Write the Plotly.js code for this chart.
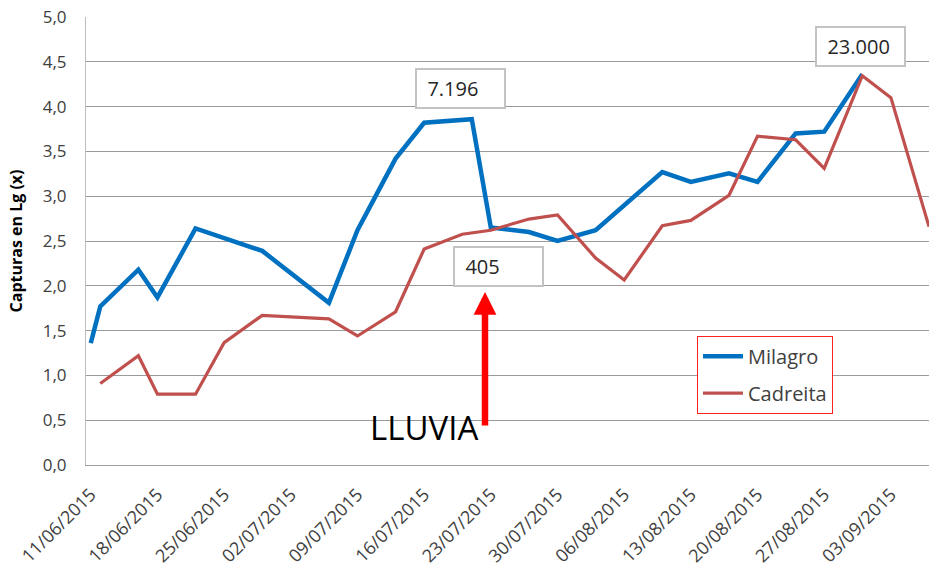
<!DOCTYPE html>
<html><head><meta charset="utf-8">
<script src="https://cdn.plot.ly/plotly-3.0.1.min.js"></script>
<style>html,body{margin:0;padding:0;background:#fff}</style>
</head><body>
<div id="chart" style="width:929px;height:566px"></div>
<script>
const seriesNames = ['Milagro', 'Cadreita'];
const milagroDates = ['2015-06-11','2015-06-12','2015-06-16','2015-06-18','2015-06-22','2015-06-29','2015-07-06','2015-07-09','2015-07-13','2015-07-16','2015-07-21','2015-07-23','2015-07-27','2015-07-30','2015-08-03','2015-08-10','2015-08-13','2015-08-17','2015-08-20','2015-08-24','2015-08-27','2015-08-31'];
const milagroValues = [1.36, 1.77, 2.18, 1.87, 2.64, 2.39, 1.81, 2.62, 3.42, 3.82, 3.86, 2.65, 2.60, 2.50, 2.62, 3.27, 3.16, 3.255, 3.16, 3.70, 3.72, 4.36];
const cadreitaDates = ['2015-06-12','2015-06-16','2015-06-18','2015-06-22','2015-06-25','2015-06-29','2015-07-06','2015-07-09','2015-07-13','2015-07-16','2015-07-20','2015-07-23','2015-07-27','2015-07-30','2015-08-03','2015-08-06','2015-08-10','2015-08-13','2015-08-17','2015-08-20','2015-08-24','2015-08-27','2015-08-31','2015-09-03','2015-09-07'];
const cadreitaValues = [0.91, 1.22, 0.79, 0.79, 1.365, 1.67, 1.63, 1.44, 1.71, 2.41, 2.575, 2.62, 2.745, 2.79, 2.31, 2.065, 2.67, 2.73, 3.01, 3.67, 3.63, 3.31, 4.345, 4.10, 2.66];
const tickDates = ['2015-06-11','2015-06-18','2015-06-25','2015-07-02','2015-07-09','2015-07-16','2015-07-23','2015-07-30','2015-08-06','2015-08-13','2015-08-20','2015-08-27','2015-09-03'];
const tickLabels = ['11/06/2015','18/06/2015','25/06/2015','02/07/2015','09/07/2015','16/07/2015','23/07/2015','30/07/2015','06/08/2015','13/08/2015','20/08/2015','27/08/2015','03/09/2015'];
const yTickValues = [0, 0.5, 1, 1.5, 2, 2.5, 3, 3.5, 4, 4.5, 5];
const calloutLabels = ['7.196', '405', '23.000'];
const rainLabel = 'LLUVIA';
const yTitle = 'Capturas en Lg (x)';

const FONT = 'Open Sans, Lato, sans-serif';
const pad = '\u00a0\u00a0';

const traces = [
  {x: milagroDates, y: milagroValues, name: seriesNames[0], type: 'scatter', mode: 'lines',
   legendgroup: 'a', line: {color: '#0070C0', width: 4.5}},
  {x: cadreitaDates, y: cadreitaValues, name: seriesNames[1], type: 'scatter', mode: 'lines',
   legendgroup: 'b', line: {color: '#C0504D', width: 3.2}}
];

function callout(text, x, y) {
  return {xref: 'paper', yref: 'paper', x: x, y: y, xanchor: 'center', yanchor: 'middle',
    text: pad + text, showarrow: false, align: 'left', width: 87, height: 37,
    bgcolor: '#ffffff', bordercolor: '#c3c3c3', borderwidth: 2, borderpad: 0,
    font: {family: FONT, size: 20, color: '#262626'}};
}

const layout = {
  width: 929, height: 566,
  margin: {l: 86, r: 0, t: 17, b: 101},
  paper_bgcolor: '#ffffff', plot_bgcolor: '#ffffff',
  separators: ', ',
  font: {family: FONT, color: '#404040'},
  showlegend: true,
  legend: {x: 0.7248, y: 0.2886, xanchor: 'left', yanchor: 'top',
    bordercolor: '#ff2020', borderwidth: 1, bgcolor: '#ffffff', itemwidth: 40,
    font: {family: FONT, size: 20, color: '#404040'}, tracegroupgap: 8},
  xaxis: {type: 'date', range: ['2015-06-10 12:00', '2015-09-07 00:00'],
    tickvals: tickDates, ticktext: tickLabels, tickangle: -45,
    tickfont: {family: FONT, size: 18, color: '#404040'},
    showgrid: false, zeroline: false, showline: true, linecolor: '#a0a0a0', linewidth: 1,
    ticks: '', ticklabelstandoff: 11, fixedrange: true},
  yaxis: {range: [0, 5], tickvals: yTickValues, tickformat: '.1f',
    tickfont: {family: FONT, size: 17, color: '#404040'},
    showgrid: true, gridcolor: '#9a9a9a', gridwidth: 1, zeroline: false,
    showline: true, linecolor: '#bdbdbd', linewidth: 1, ticks: '', ticklabelstandoff: 15,
    title: {text: yTitle, font: {family: FONT, size: 16, color: '#000000', weight: 'bold'}, standoff: 16},
    fixedrange: true},
  annotations: [
    callout(calloutLabels[0], 0.4441, 0.8411),
    callout(calloutLabels[1], 0.4891, 0.4438),
    callout(calloutLabels[2], 0.9188, 0.9348),
    {xref: 'paper', yref: 'paper', x: 0.4733, y: 0.3862, text: '', showarrow: true,
     ax: 0, ay: 135, arrowcolor: '#ff0000', arrowwidth: 6.5, arrowhead: 2, arrowsize: 0.7, standoff: 0},
    {xref: 'paper', yref: 'paper', x: 0.4013, y: 0.0826, xanchor: 'center', yanchor: 'middle',
     text: rainLabel, showarrow: false, font: {family: FONT, size: 33, color: '#000000'}}
  ]
};

Plotly.newPlot('chart', traces, layout, {staticPlot: true, displayModeBar: false});
</script>
</body></html>
